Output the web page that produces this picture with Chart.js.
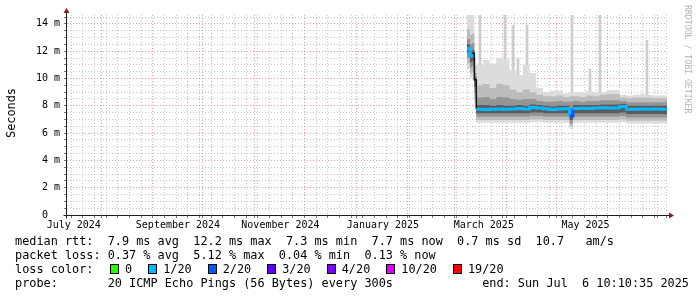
<!DOCTYPE html>
<html>
<head>
<meta charset="utf-8">
<script src="https://cdn.jsdelivr.net/npm/chart.js@4.4.1/dist/chart.umd.min.js"></script>
<style>
  html, body { margin: 0; padding: 0; background: #fff; }
  #wrap { position: relative; width: 697px; height: 297px; overflow: hidden; font-family: 'DejaVu Sans Mono', monospace; color: #000; }
  #chart { position: absolute; left: 0; top: 0; }
  .txt { position: absolute; left: 15px; font-size: 11.85px; line-height: 14px; white-space: pre; }
  #yTitle { position: absolute; left: 11px; top: 113px; font-size: 11.85px; transform: translate(-50%, -50%) rotate(-90deg); white-space: pre; }
  #mark { position: absolute; left: 683px; top: 5px; font-size: 8.2px; color: #b4b4b4; writing-mode: vertical-rl; white-space: pre; }
  #lossRow { position: absolute; left: 110px; top: 262px; height: 14px; display: flex; align-items: center; }
  .box { width: 7px; height: 8px; border: 1px solid #000; margin-right: 6px; }
  .lbl { font-size: 11.85px; line-height: 14px; margin-right: 16px; white-space: pre; }
</style>
</head>
<body>
<div id="wrap">
  <canvas id="chart" width="697" height="297"></canvas>
  <div id="yTitle">Seconds</div>
  <div id="mark">RRDTOOL / TOBI OETIKER</div>
  <div class="txt" style="top:234px">median rtt:  7.9 ms avg  12.2 ms max  7.3 ms min  7.7 ms now  0.7 ms sd  10.7   am/s</div>
  <div class="txt" style="top:248px">packet loss: 0.37 % avg  5.12 % max  0.04 % min  0.13 % now</div>
  <div class="txt" style="top:262px">loss color:</div>
  <div id="lossRow"></div>
  <div class="txt" style="top:276px">probe:       20 ICMP Echo Pings (56 Bytes) every 300s</div>
  <div class="txt" style="top:276px; left:auto; right:8px">end: Sun Jul  6 10:10:35 2025</div>
</div>
<script>
// x = days since 2024-07-11 00:00, graph spans 360 days ending Sun Jul 6 10:10 2025
const xStart = 0.42;
const xEnd = 360.42;
const yMax = 14.65;

const monthStartDays = [21, 52, 82, 113, 143, 174, 205, 233, 264, 294, 325, 355];
const labelDays = [4.5, 67, 128.5, 190, 250.5, 311.5];
const tickLabels = ['July 2024', 'September 2024', 'November 2024', 'January 2025', 'March 2025', 'May 2025'];
const firstSunday = 3;

// smoke bins (value holds from this day to the next one)
const day = [240.4, 242.2, 243.6, 244.8, 246, 250, 254, 258, 262, 266, 270, 274, 278, 282, 286, 290, 294,
  298, 302, 304, 308, 312, 316, 320, 324, 328, 332, 336, 340, 344, 348, 352, 356, 360.42];
const median = [12.2, 11.65, 11.85, 9.9, 7.75, 7.72, 7.75, 7.77, 7.74, 7.76, 7.8, 7.76, 7.88, 7.84, 7.78, 7.72, 7.76,
  7.78, 7.25, 7.8, 7.82, 7.8, 7.84, 7.86, 7.84, 7.84, 7.95, 7.75, 7.74, 7.76, 7.74, 7.76, 7.75, 7.75];
const medianLoss = [1, 1, 1, 1, 1, 1, 1, 1, 1, 1, 1, 1, 1, 1, 1, 1, 1,
  1, 2, 1, 1, 1, 1, 1, 1, 1, 1, 1, 1, 1, 1, 1, 1, 1];
const hi1 = [14.65, 14.65, 14.65, 11.6, 11.0, 11.35, 11.1, 11.5, 11.4, 10.6, 10.25, 11.0, 10.4, 9.3, 9.0, 9.1, 9.1,
  8.9, 9.0, 9.0, 9.0, 9.1, 9.0, 9.0, 9.15, 9.15, 8.8, 8.75, 8.8, 8.85, 8.8, 8.75, 8.75, 8.75];
const hi2 = [13.6, 13.2, 13.3, 10.9, 9.5, 9.6, 9.3, 9.6, 9.5, 9.2, 9.0, 9.2, 9.0, 8.8, 8.7, 8.7, 8.75,
  8.65, 8.7, 8.7, 8.65, 8.75, 8.7, 8.8, 8.85, 8.85, 8.6, 8.55, 8.6, 8.6, 8.6, 8.55, 8.55, 8.55];
const hi3 = [12.9, 12.5, 12.6, 10.4, 8.6, 8.65, 8.5, 8.65, 8.6, 8.5, 8.45, 8.5, 8.5, 8.35, 8.3, 8.3, 8.35,
  8.3, 8.3, 8.35, 8.3, 8.35, 8.35, 8.4, 8.4, 8.4, 8.35, 8.25, 8.25, 8.25, 8.25, 8.25, 8.25, 8.25];
const hi4 = [12.5, 12.0, 12.1, 10.1, 8.05, 8.05, 8.0, 8.05, 8.0, 8.0, 8.05, 8.0, 8.1, 8.05, 8.0, 7.95, 8.0,
  8.0, 7.6, 8.05, 8.05, 8.05, 8.05, 8.1, 8.1, 8.1, 8.15, 8.0, 8.0, 8.0, 8.0, 8.0, 8.0, 8.0];
const lo4 = [11.9, 11.2, 11.3, 9.4, 7.45, 7.45, 7.45, 7.45, 7.45, 7.45, 7.45, 7.45, 7.5, 7.5, 7.45, 7.45, 7.45,
  7.45, 6.95, 7.45, 7.45, 7.45, 7.45, 7.45, 7.45, 7.45, 7.5, 7.4, 7.4, 7.4, 7.4, 7.4, 7.4, 7.4];
const lo3 = [11.5, 10.8, 10.9, 8.9, 7.2, 7.2, 7.2, 7.2, 7.2, 7.2, 7.2, 7.2, 7.25, 7.25, 7.2, 7.2, 7.2,
  7.2, 6.7, 7.2, 7.2, 7.2, 7.2, 7.2, 7.2, 7.2, 7.25, 7.15, 7.15, 7.15, 7.15, 7.15, 7.15, 7.15];
const lo2 = [11.1, 10.4, 10.5, 8.4, 6.95, 6.95, 6.95, 6.95, 6.95, 6.95, 6.95, 6.95, 7.0, 7.0, 6.95, 6.95, 6.95,
  6.95, 6.5, 6.95, 6.95, 6.95, 6.95, 6.95, 6.95, 6.95, 7.0, 6.9, 6.9, 6.9, 6.9, 6.9, 6.9, 6.9];
const lo1 = [10.7, 10.0, 10.1, 7.9, 6.75, 6.75, 6.75, 6.75, 6.75, 6.75, 6.75, 6.75, 6.8, 6.8, 6.75, 6.75, 6.75,
  6.75, 6.3, 6.75, 6.75, 6.75, 6.75, 6.75, 6.75, 6.75, 6.8, 6.7, 6.7, 6.7, 6.7, 6.7, 6.7, 6.7];

// single tall outliers
const spikeDay = [248.2, 263.2, 268, 271, 276.4, 303.4, 314.2, 320.2, 348.4];
const spikeLow = [9.5, 9.5, 9.5, 9.5, 9.5, 8.9, 9.0, 9.0, 8.8];
const spikeTop = [14.65, 14.65, 13.9, 11.5, 13.9, 14.65, 10.7, 14.65, 12.8];

const lossLabels = ['0', '1/20', '2/20', '3/20', '4/20', '10/20', '19/20'];
const lossColors = ['#26ff00', '#00b8ff', '#0059ff', '#5e00ff', '#7e00ff', '#dd00ff', '#ff0000'];
const lossIndex = { 0: 0, 1: 1, 2: 2, 3: 3, 4: 4, 10: 5, 19: 6 };

// legend row
const lossRow = document.getElementById('lossRow');
lossLabels.forEach((l, i) => {
  const b = document.createElement('span');
  b.className = 'box';
  b.style.background = lossColors[i];
  const t = document.createElement('span');
  t.className = 'lbl';
  t.textContent = l;
  lossRow.appendChild(b);
  lossRow.appendChild(t);
});

const pts = arr => day.map((d, i) => ({ x: d, y: arr[i] }));

function band(lo, hi, color, order) {
  const common = { type: 'line', stepped: true, pointRadius: 0, borderWidth: 0, borderColor: 'transparent', order };
  return [
    { ...common, data: pts(lo), fill: false },
    { ...common, data: pts(hi), fill: '-1', backgroundColor: color }
  ];
}

const xTicks = [...new Set([
  ...monthStartDays,
  ...labelDays,
  ...Array.from({ length: 52 }, (_, k) => firstSunday + 7 * k).filter(v => v > xStart && v < xEnd)
])].sort((a, b) => a - b);

const yTicks = Array.from({ length: 30 }, (_, k) => k * 0.5);

const majorGrid = 'rgba(222, 79, 79, 0.55)';
const minorGrid = 'rgba(143, 143, 143, 0.5)';

const axisArrows = {
  id: 'axisArrows',
  afterDatasetsDraw(chart) {
    const { ctx, chartArea: a } = chart;
    const y0 = Math.round(a.bottom) + 0.5;
    const x0 = Math.round(a.left) - 0.5;
    ctx.save();
    ctx.strokeStyle = '#1f1f1f';
    ctx.lineWidth = 1;
    ctx.beginPath();
    ctx.moveTo(x0 - 3, y0);
    ctx.lineTo(a.right + 2, y0);
    ctx.moveTo(x0, y0 + 3);
    ctx.lineTo(x0, a.top - 2);
    ctx.stroke();
    ctx.fillStyle = '#801f1f';
    ctx.beginPath();
    ctx.moveTo(a.right + 7, y0);
    ctx.lineTo(a.right + 2, y0 - 3);
    ctx.lineTo(a.right + 2, y0 + 3);
    ctx.closePath();
    ctx.fill();
    ctx.beginPath();
    ctx.moveTo(x0, a.top - 7);
    ctx.lineTo(x0 - 3, a.top - 2);
    ctx.lineTo(x0 + 3, a.top - 2);
    ctx.closePath();
    ctx.fill();
    ctx.restore();
  }
};

const isMonth = v => monthStartDays.includes(v);
const isLabel = v => labelDays.includes(v) && !isMonth(v);

new Chart(document.getElementById('chart'), {
  type: 'line',
  data: {
    datasets: [
      {
        type: 'bar',
        data: spikeDay.map((d, i) => ({ x: d, y: [spikeLow[i], spikeTop[i]] })),
        backgroundColor: '#cdcdcd',
        barThickness: 2,
        order: 12
      },
      ...band(lo1, hi1, '#dcdcdc', 10),
      ...band(lo2, hi2, '#bcbcbc', 9),
      ...band(lo3, hi3, '#959595', 8),
      ...band(lo4, hi4, '#5c5c5c', 7),
      {
        type: 'line',
        data: pts(median),
        stepped: true,
        pointRadius: 0,
        fill: false,
        borderWidth: 3,
        borderColor: lossColors[1],
        order: 1,
        segment: {
          borderColor: c => Math.abs(c.p1.parsed.y - c.p0.parsed.y) > 1 ? '#111' : lossColors[lossIndex[medianLoss[c.p0DataIndex]]],
          borderWidth: c => Math.abs(c.p1.parsed.y - c.p0.parsed.y) > 1 ? 1.5 : 3
        }
      }
    ]
  },
  options: {
    responsive: false,
    animation: false,
    events: [],
    layout: { padding: { left: 0, top: 15, right: 30, bottom: 62 } },
    plugins: { legend: { display: false }, tooltip: { enabled: false } },
    scales: {
      x: {
        type: 'linear',
        min: xStart,
        max: xEnd,
        offset: false,
        afterFit: s => { s.height = 20; },
        afterBuildTicks: s => { s.ticks = xTicks.map(v => ({ value: v })); },
        grid: {
          offset: false,
          lineWidth: 1,
          tickLength: 3,
          color: c => !c.tick ? 'transparent' : isMonth(c.tick.value) ? majorGrid : isLabel(c.tick.value) ? 'transparent' : minorGrid,
          tickColor: c => !c.tick ? 'transparent' : isLabel(c.tick.value) ? 'transparent' : 'rgba(60,60,60,0.7)'
        },
        border: { display: false, dash: [1, 2] },
        ticks: {
          autoSkip: false,
          maxRotation: 0,
          padding: 1,
          color: '#000',
          font: { family: 'DejaVu Sans Mono', size: 10 },
          callback: v => {
            const i = labelDays.indexOf(v);
            return i >= 0 ? tickLabels[i] : '';
          }
        }
      },
      y: {
        type: 'linear',
        min: 0,
        max: yMax,
        afterFit: s => { s.width = 67; },
        afterBuildTicks: s => { s.ticks = yTicks.map(v => ({ value: v })); },
        grid: {
          lineWidth: 1,
          tickLength: 3,
          color: c => !c.tick ? 'transparent' : c.tick.value % 2 === 0 ? majorGrid : minorGrid,
          tickColor: 'rgba(60,60,60,0.7)'
        },
        border: { display: false, dash: [1, 2] },
        ticks: {
          autoSkip: false,
          padding: 4,
          color: '#000',
          font: { family: 'DejaVu Sans Mono', size: 10 },
          callback: v => v % 2 !== 0 ? '' : v === 0 ? '0  ' : v + ' m'
        }
      }
    }
  },
  plugins: [axisArrows]
});
</script>
</body>
</html>
